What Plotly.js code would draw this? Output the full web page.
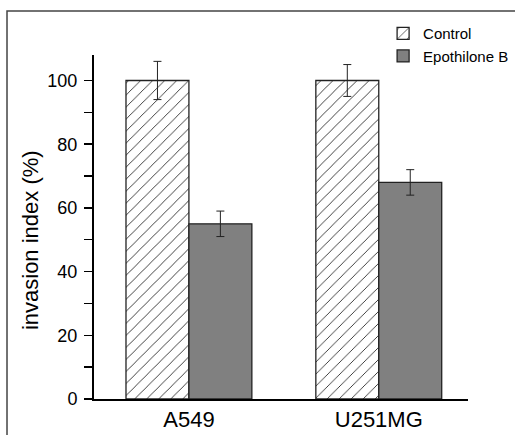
<!DOCTYPE html>
<html>
<head>
<meta charset="utf-8">
<script src="https://cdn.plot.ly/plotly-3.0.1.min.js"></script>
<style>html,body{margin:0;padding:0;background:#fff;}#chart{width:515px;height:435px;}</style>
</head>
<body>
<div id="chart"></div>
<script>
var categories = ["A549", "U251MG"];
var seriesNames = ["Control", "Epothilone B"];
var controlValues = [100, 100];
var controlErrors = [6, 5];
var epothiloneValues = [55, 68];
var epothiloneErrors = [4, 4];
var yTickValues = [0, 20, 40, 60, 80, 100];
var yTitle = 'invasion index (%)';

var xIdx = categories.map(function(_, i){ return i; });

var traces = [
  {
    type: 'bar', name: seriesNames[0], x: xIdx, y: controlValues,
    error_y: {type: 'data', array: controlErrors, visible: true, color: '#222', thickness: 1, width: 4},
    marker: {color: 'white', line: {color: '#222', width: 1.3},
      pattern: {shape: '/', fgcolor: '#222', bgcolor: 'white', size: 8.5, solidity: 0.1}}
  },
  {
    type: 'bar', name: seriesNames[1], x: xIdx, y: epothiloneValues,
    error_y: {type: 'data', array: epothiloneErrors, visible: true, color: '#222', thickness: 1, width: 4},
    marker: {color: '#808080', line: {color: '#222', width: 1.3}}
  }
];

var layout = {
  width: 515, height: 435,
  margin: {l: 94, r: 47, t: 55, b: 36, autoexpand: false},
  paper_bgcolor: 'white', plot_bgcolor: 'white',
  font: {family: 'Liberation Sans, Arial, sans-serif', color: '#000'},
  barmode: 'group', bargap: 0.337, bargroupgap: 0,
  showlegend: true,
  legend: {x: 0.773, y: 1.11, xanchor: 'left', yanchor: 'top', bgcolor: 'rgba(0,0,0,0)',
    font: {size: 15}, tracegroupgap: 0},
  xaxis: {range: [-0.5, 1.47], tickmode: 'array', tickvals: xIdx, ticktext: categories,
    showline: true, linecolor: '#000', linewidth: 2, ticks: '', showgrid: false, zeroline: false,
    tickfont: {size: 22}, fixedrange: true, automargin: false},
  yaxis: {range: [0, 108], tickmode: 'array', tickvals: yTickValues,
    showline: true, linecolor: '#000', linewidth: 2, ticks: 'outside', ticklen: 8, tickwidth: 1.5, tickcolor: '#000',
    minor: {dtick: 10, ticks: 'outside', ticklen: 8, tickwidth: 1.5, tickcolor: '#000', showgrid: false},
    showgrid: false, zeroline: false, tickfont: {size: 18}, ticklabelstandoff: 3, fixedrange: true, automargin: false},
  annotations: [
    {text: yTitle, xref: 'paper', yref: 'paper', x: -0.171, y: 0.462, xanchor: 'center', yanchor: 'middle',
     textangle: -90, showarrow: false, font: {size: 22}}
  ],
  shapes: [
    {type: 'rect', xref: 'paper', yref: 'paper', x0: -0.2326, x1: 1.3, y0: -0.3, y1: 1.128,
     line: {color: '#444', width: 1.5}, fillcolor: 'rgba(0,0,0,0)', layer: 'below'}
  ]
};

Plotly.newPlot('chart', traces, layout, {staticPlot: true, displayModeBar: false});
</script>
</body>
</html>
